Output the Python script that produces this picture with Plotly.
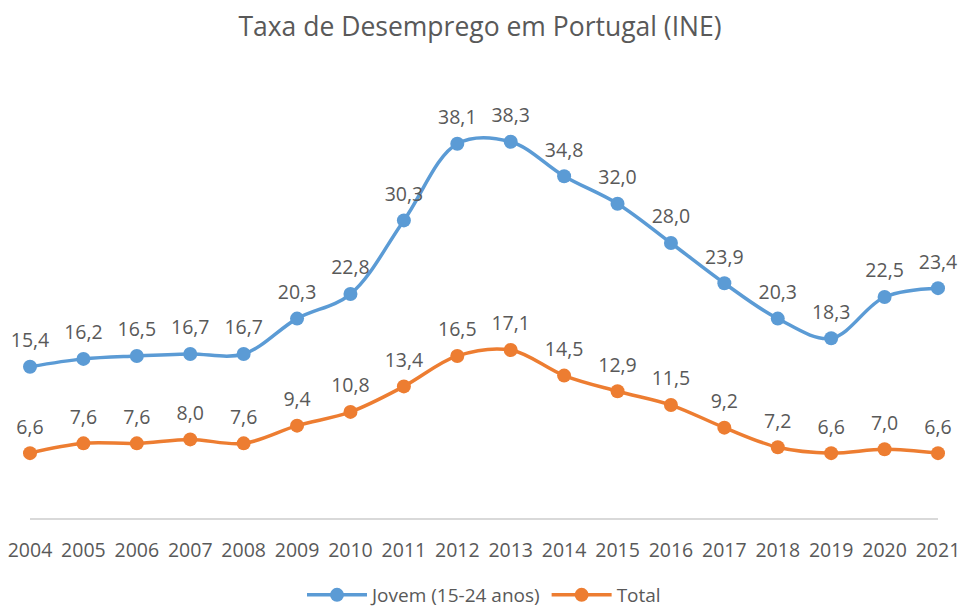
import plotly.graph_objects as go

years = list(range(2004, 2022))
jovem = [15.4, 16.2, 16.5, 16.7, 16.7, 20.3, 22.8, 30.3, 38.1, 38.3, 34.8, 32.0, 28.0, 23.9, 20.3, 18.3, 22.5, 23.4]
total = [6.6, 7.6, 7.6, 8.0, 7.6, 9.4, 10.8, 13.4, 16.5, 17.1, 14.5, 12.9, 11.5, 9.2, 7.2, 6.6, 7.0, 6.6]
tick_labels = [str(y) for y in years]

def fmt(v):
    return f"{v:.1f}".replace(".", ",")

BLUE = "#5B9BD5"
ORANGE = "#ED7D31"
TXT = "#595959"
FONT = "Open Sans"

fig = go.Figure()
for name, vals, col in [("Jovem (15-24 anos)", jovem, BLUE), ("Total", total, ORANGE)]:
    fig.add_trace(go.Scatter(
        x=years, y=vals, name=name, mode="lines+markers",
        line=dict(color=col, width=3.5, shape="spline", smoothing=1),
        marker=dict(color=col, size=14),
        cliponaxis=False,
    ))
for vals in (jovem, total):
    fig.add_trace(go.Scatter(
        x=years, y=vals, mode="markers+text", showlegend=False, hoverinfo="skip",
        marker=dict(size=22, opacity=0),
        text=[fmt(v) for v in vals], textposition="top center",
        textfont=dict(family=FONT, size=19.5, color=TXT),
        cliponaxis=False,
    ))

fig.update_layout(
    width=960, height=609,
    margin=dict(l=30, r=22, t=76, b=91, autoexpand=False),
    paper_bgcolor="white", plot_bgcolor="white",
    title=dict(text="Taxa de Desemprego em Portugal (INE)", x=0.5, xanchor="center",
               y=1 - 27 / 609, yanchor="middle",
               font=dict(family=FONT, size=26.5, color=TXT)),
    showlegend=True,
    legend=dict(orientation="h", x=0.5, xanchor="center", y=-(595 - 518) / 442,
                yanchor="middle", font=dict(family=FONT, size=19, color=TXT),
                itemwidth=60, traceorder="normal", tracegroupgap=0),
    font=dict(family=FONT, color=TXT),
)
fig.update_xaxes(range=[2004, 2021], tickvals=years, ticktext=tick_labels,
                 showline=True, linecolor="#D9D9D9", linewidth=1.5, showgrid=False,
                 zeroline=False, ticks="", ticklabelstandoff=14, automargin=False,
                 ticklabeloverflow="allow",
                 tickfont=dict(family=FONT, size=19.5, color=TXT))
fig.update_yaxes(range=[0, 45], showticklabels=False, showgrid=False, zeroline=False,
                 showline=False, automargin=False)

fig.write_html("out.html", config={"displayModeBar": False},
               post_script="document.body.style.margin='0';document.body.style.overflow='hidden';")
